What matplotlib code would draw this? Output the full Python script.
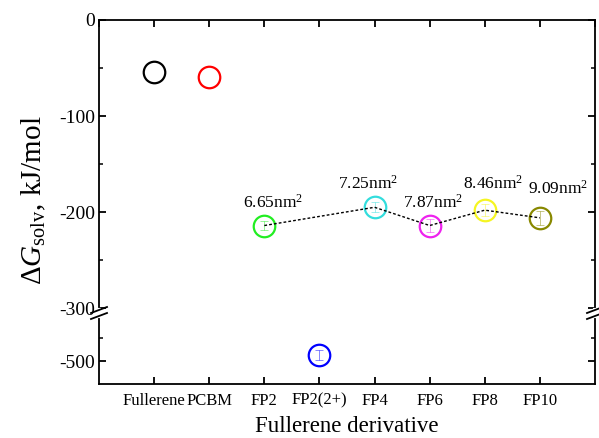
import numpy as np
import matplotlib.pyplot as plt

plt.rcParams['font.family'] = ['Liberation Serif', 'DejaVu Serif']
plt.rcParams['mathtext.fontset'] = 'custom'
plt.rcParams['mathtext.rm'] = 'Liberation Serif'
plt.rcParams['mathtext.it'] = 'Liberation Serif:italic'
plt.rcParams['axes.unicode_minus'] = False

# solvation free energies (kJ/mol)
names = ['Fullerene', 'PCBM', 'FP2', 'FP2(2+)', 'FP4', 'FP6', 'FP8', 'FP10']
dG = [-54, -59, -214, -487, -195, -214, -198, -206]
err = [0, 0, 5, 10, 5, 7, 6, 7]
colors = ['black', 'red', '#22ee22', 'blue', '#33dddd', '#ee22ee', '#f5f522', '#888800']

# FP series with surface areas
fp_idx = [2, 4, 5, 6, 7]
areas = ['6.65', '7.25', '7.87', '8.46', '9.09']
label_pos = [(273, -190), (368, -170), (433, -190), (493, -170), (558, -176)]

x = np.arange(1, len(names) + 1)

fig = plt.figure(figsize=(5.99, 4.38), dpi=100)
L, R = 99 / 599, 595 / 599
top_y, brk_y, bot_y = 20, 311, 384
ax1 = fig.add_axes([L, 1 - brk_y / 438, R - L, (brk_y - top_y) / 438])
ax2 = fig.add_axes([L, 1 - bot_y / 438, R - L, (bot_y - brk_y) / 438])

for ax in (ax1, ax2):
    for i in range(len(names)):
        if err[i]:
            ax.errorbar(x[i], dG[i], yerr=err[i], fmt='none', ecolor=colors[i],
                        elinewidth=0.6, capsize=3, capthick=0.6, alpha=0.55)
        ax.plot(x[i], dG[i], 'o', mfc='none', mec=colors[i], mew=1.6, ms=15.5)
    ax.set_xlim(0, 9)
    for s in ax.spines.values():
        s.set_linewidth(1.3)
    ax.tick_params(direction='in', length=5, width=1.3, right=True, top=True)
    ax.tick_params(axis='y', labelsize=14, pad=3)
    ax.tick_params(which='minor', direction='in', length=3, width=1.1, right=True)

# dotted guide through FP series
ax1.plot(x[fp_idx], [dG[i] for i in fp_idx], ls=(0, (2, 1.5)), color='black', lw=1.0)
for k, i in enumerate(fp_idx):
    px, py = label_pos[k]
    ax1.text(x[i] + (px - (99 + 55.1 * x[i])) / 55.1, py, areas[k] + r'nm$^2$',
             ha='center', va='center', fontsize=12.5)

ax1.set_ylim(-303, 0)
ax1.set_yticks([0, -100, -200, -300])
ax1.set_yticks([-50, -150, -250], minor=True)
ax1.spines['bottom'].set_visible(False)
ax1.tick_params(bottom=False, labelbottom=False)

ax2.set_ylim(-550, -391)
ax2.set_yticks([-500])
ax2.set_yticks([-450], minor=True)
ax2.spines['top'].set_visible(False)
ax2.tick_params(top=False)
ax2.set_xticks(x)
ax2.set_xticklabels(names, va='baseline')
ax2.tick_params(axis='x', labelsize=12, pad=15)

ax2.set_xlabel('Fullerene derivative', fontsize=16.5, labelpad=5)
fig.text(34 / 599, 1 - 200 / 438, r'$\Delta G_{\rm solv}$, kJ/mol', rotation=90,
         ha='center', va='center', fontsize=21)

# axis break marks on both spines
brk_c = 313
for xb in (L, R):
    px = xb * 599
    fig.add_artist(plt.Line2D([px / 599, px / 599],
                              [1 - (brk_c + 3) / 438, 1 - (brk_c - 3) / 438],
                              color='white', lw=3))
    for dy in (-3, 3):
        fig.add_artist(plt.Line2D([(px - 8) / 599, (px + 8) / 599],
                                  [1 - (brk_c + dy + 3) / 438, 1 - (brk_c + dy - 3) / 438],
                                  color='black', lw=1.3))

fig.savefig('out.png', dpi=100)
